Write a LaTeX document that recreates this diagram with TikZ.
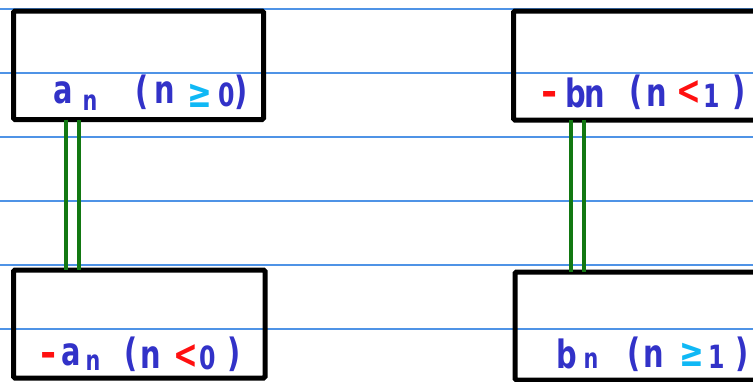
\documentclass[tikz,border=0pt]{standalone}
\usepackage{fontspec}
\setmainfont{DejaVu Sans}
\definecolor{rulec}{HTML}{4F93E6}
\definecolor{ink}{HTML}{3232C8}
\definecolor{redink}{HTML}{FF1010}
\definecolor{cyanink}{HTML}{10B8F5}
\definecolor{linkc}{HTML}{127812}
\newcommand{\nx}[1]{\scalebox{0.74}[1]{#1}}
\begin{document}
\begin{tikzpicture}[x=1pt,y=-1pt,
  rule/.style={draw=rulec, line width=1.3pt},
  box/.style={draw=black, line width=5pt, rounded corners=1.5pt, outer sep=0pt, inner sep=0pt, anchor=north west},
  link/.style={draw=linkc, line width=3.2pt},
  gl/.style={inner sep=0pt, anchor=base, text=ink, font=\fontsize{39}{39}\selectfont\bfseries},
  sub/.style={gl, font=\fontsize{28}{28}\selectfont\bfseries},
  dig/.style={gl, font=\fontsize{32}{32}\selectfont\bfseries},
  sym/.style={gl, font=\fontsize{40}{40}\selectfont\bfseries},
  red/.style={text=redink},
  cy/.style={text=cyanink}]
\useasboundingbox (0,0) rectangle (753,381);
\clip (0,0) rectangle (753,381);
% ruled paper
\foreach \yy in {9,73,137,201,265,329}
  \draw[rule] (0,\yy) -- (753,\yy);
% boxes
\node[box, minimum width=250pt, minimum height=108.5pt] (tl) at (13.5,11) {};
\node[box, minimum width=300pt, minimum height=109pt] (tr) at (513.5,11) {};
\node[box, minimum width=251.5pt, minimum height=108pt] (bl) at (13.5,270) {};
\node[box, minimum width=300pt, minimum height=108pt] (br) at (515,272) {};
% double connectors
\draw[link] ([xshift=52.5pt]tl.south west) -- ([xshift=52.5pt]tl.south west |- bl.north);
\draw[link] ([xshift=65.5pt]tl.south west) -- ([xshift=65.5pt]tl.south west |- bl.north);
\draw[link] ([xshift=57.5pt]tr.south west) -- ([xshift=57.5pt]tr.south west |- br.north);
\draw[link] ([xshift=70.5pt]tr.south west) -- ([xshift=70.5pt]tr.south west |- br.north);
% top-left label: a_n (n >= 0)
\node[gl] (tla) at (63,103) {\nx{a}};
\node[sub] (tlas) at (90,110) {\nx{n}};
\node[gl] (tlp1) at (142,104) {\nx{(}};
\node[gl] (tln) at (165,103) {\nx{n}};
\node[sym, cy] (tlge) at (200,107) {\nx{≥}};
\node[dig] (tl0) at (227,106) {\nx{0}};
\node[gl] (tlp2) at (241,104) {\nx{)}};
% top-right label: -bn (n < 1)
\node[gl, red] (trm) at (550,105) {-};
\node[gl] (trb) at (576,107) {\nx{b}};
\node[gl] (trn) at (595,107) {\nx{n}};
\node[gl] (trp1) at (636,104) {\nx{(}};
\node[gl] (trn2) at (657,106) {\nx{n}};
\node[sym, red] (trlt) at (689,104) {\nx{<}};
\node[dig] (tr1) at (712,107) {\nx{1}};
\node[gl] (trp2) at (739,104) {\nx{)}};
% bottom-left label: -a_n (n < 0)
\node[gl, red] (blm) at (49,366) {-};
\node[gl] (bla) at (71,365) {\nx{a}};
\node[sub] (blas) at (93,370) {\nx{n}};
\node[gl] (blp1) at (131,366) {\nx{(}};
\node[gl] (bln) at (151,368) {\nx{n}};
\node[sym, red] (bllt) at (186,368) {\nx{<}};
\node[dig] (bl0) at (208,369) {\nx{0}};
\node[gl] (blp2) at (234,366) {\nx{)}};
% bottom-right label: bn (n >= 1)
\node[gl] (brb) at (567,368) {\nx{b}};
\node[sub] (brn) at (591,368) {\nx{n}};
\node[gl] (brp1) at (634,366) {\nx{(}};
\node[gl] (brn2) at (654,367) {\nx{n}};
\node[sym, cy] (brge) at (692,366) {\nx{≥}};
\node[dig] (br1) at (717,368) {\nx{1}};
\node[gl] (brp2) at (742,366) {\nx{)}};
\end{tikzpicture}
\end{document}
